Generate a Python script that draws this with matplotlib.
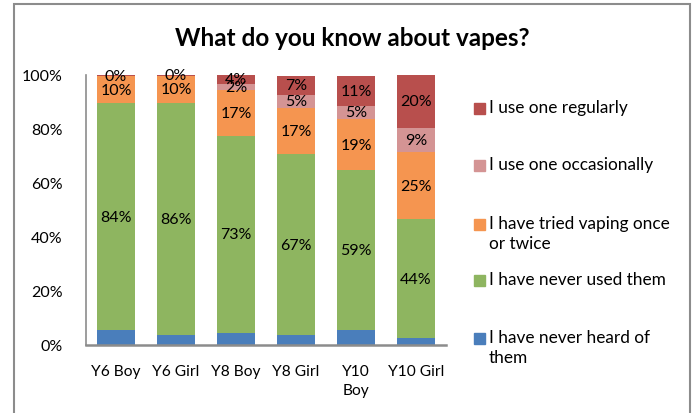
import numpy as np
import matplotlib
matplotlib.use("Agg")
from matplotlib import pyplot as plt
from matplotlib.patches import Rectangle

plt.rcParams['font.family'] = ['Lato', 'DejaVu Sans']

# data (percent of pupils)
groups = ["Y6 Boy", "Y6 Girl", "Y8 Boy", "Y8 Girl", "Y10\nBoy", "Y10 Girl"]
never_heard = [5.5, 3.7, 4.5, 3.7, 5.7, 2.5]
never_used = [84, 86, 73, 67, 59, 44]
tried = [10, 10, 17, 17, 19, 25]
occasionally = [0, 0, 2, 5, 5, 9]
regularly = [0.4, 0.3, 4, 7, 11, 20]

series_names = ["I have never heard of\nthem", "I have never used them",
                "I have tried vaping once\nor twice", "I use one occasionally",
                "I use one regularly"]
colors = ["#4A7EBB", "#8EB560", "#F59550", "#D49494", "#B84F4D"]
title = "What do you know about vapes?"

W, H = 697, 414
fig = plt.figure(figsize=(W / 100, H / 100), dpi=100)

# chart border
fig.patches.append(Rectangle((14 / W, -0.1), (690 - 14) / W, (H - 5) / H + 0.1,
                             transform=fig.transFigure, fill=False,
                             edgecolor="#8c8c8c", linewidth=1.5))

ax = fig.add_axes([86 / W, (H - 346) / H, 360 / W, 270 / H])

series = [never_heard, never_used, tried, occasionally, regularly]
x = np.arange(len(groups))
bottom = np.zeros(len(groups))
for i, vals in enumerate(series):
    vals = np.array(vals, dtype=float)
    ax.bar(x, vals, 0.63, bottom=bottom, color=colors[i], linewidth=0)
    if i > 0:
        for xi, v, b in zip(x, vals, bottom):
            if v > 0:
                ax.text(xi, b + v / 2, f"{v:.0f}%", ha="center", va="center",
                        fontsize=11.5, color="black")
    bottom += vals

ax.set_xlim(-0.5, len(groups) - 0.5)
ax.set_ylim(0, 100)
ax.set_yticks(np.arange(0, 101, 20))
ax.set_yticklabels([f"{t}%" for t in range(0, 101, 20)], fontsize=11.5)
ax.set_xticks(x)
ax.set_xticklabels(groups, fontsize=11.2, va="top", linespacing=1.45)
ax.tick_params(axis="y", length=0, pad=17)
ax.tick_params(axis="x", length=0, pad=14)
for s in ["top", "right"]:
    ax.spines[s].set_visible(False)
ax.spines["left"].set_color("#8c8c8c")
ax.spines["left"].set_linewidth(1.2)
ax.spines["bottom"].set_color("#8c8c8c")
ax.spines["bottom"].set_linewidth(1.8)

fig.text(352 / W, (H - 38) / H, title, ha="center", va="center",
         fontsize=17.5, fontweight="bold")

# legend, drawn by hand (top entry is the last series)
ys = [109, 166, 225, 281, 339]
for k, y in enumerate(ys):
    i = len(series) - 1 - k
    fig.patches.append(Rectangle((474 / W, (H - y - 5.5) / H), 11 / W, 11 / H,
                                 transform=fig.transFigure, color=colors[i]))
    fig.text(489 / W, (H - y + 9) / H, series_names[i], ha="left", va="top",
             fontsize=12.4, linespacing=1.3)

fig.savefig("out.png", dpi=100)
